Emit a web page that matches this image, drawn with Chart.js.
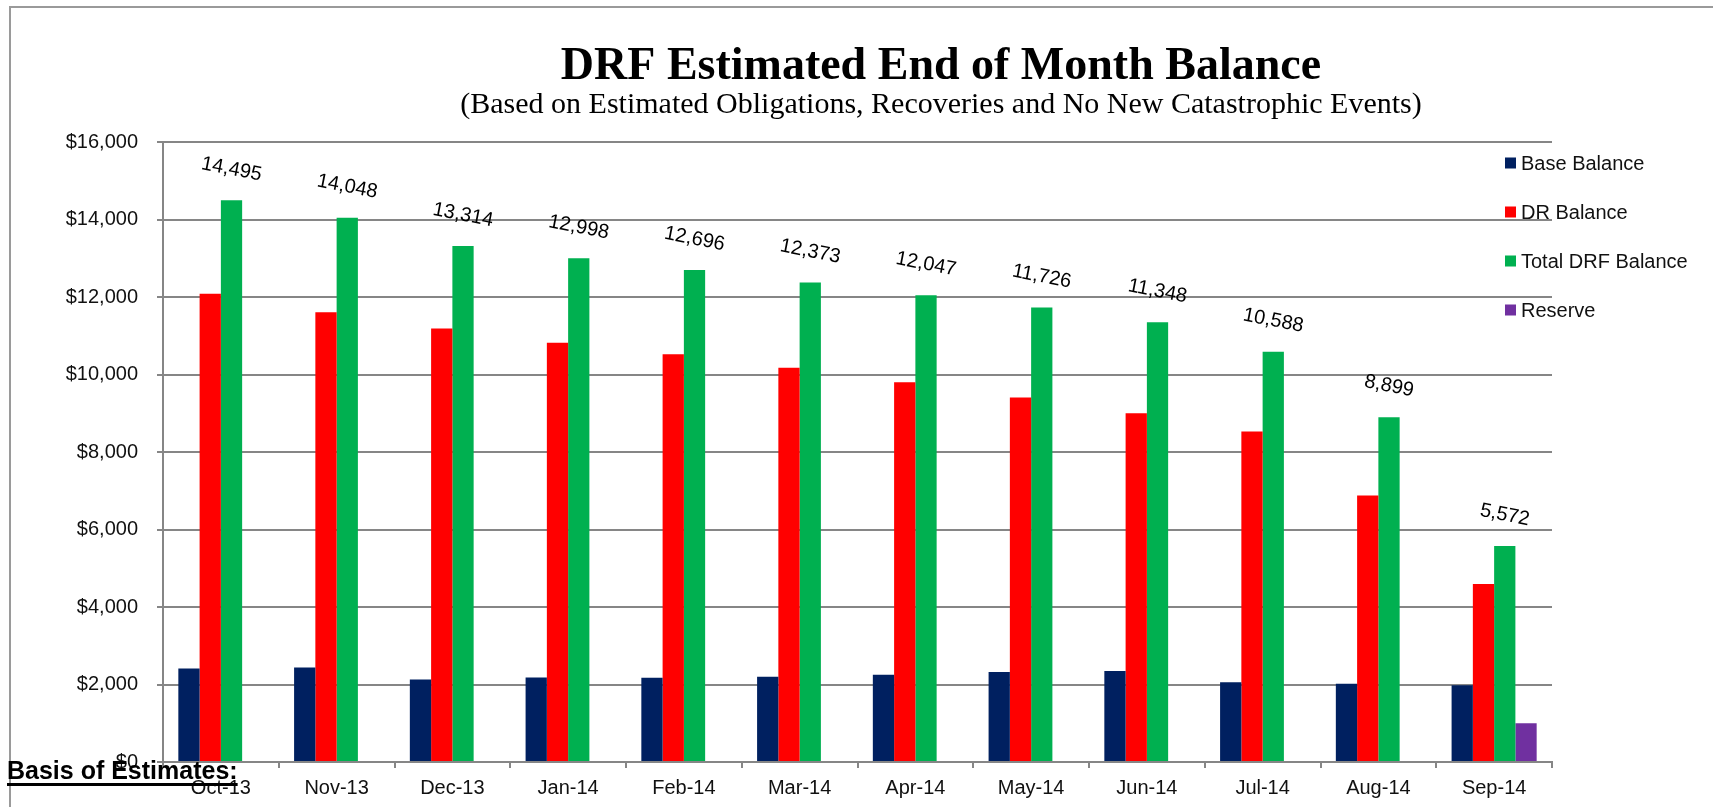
<!DOCTYPE html>
<html>
<head>
<meta charset="utf-8">
<script src="https://cdn.jsdelivr.net/npm/chart.js@4.4.1/dist/chart.umd.min.js"></script>
<style>
  body { margin: 0; background: #fff; }
  #wrap { position: relative; width: 1713px; height: 807px; }
</style>
</head>
<body>
<div id="wrap"><canvas id="drfChart"></canvas></div>
<script>
const months = ['Oct-13', 'Nov-13', 'Dec-13', 'Jan-14', 'Feb-14', 'Mar-14', 'Apr-14', 'May-14', 'Jun-14', 'Jul-14', 'Aug-14', 'Sep-14'];
const baseBalance = [2410, 2440, 2130, 2180, 2175, 2200, 2250, 2320, 2350, 2060, 2020, 1980];
const drBalance = [12085, 11608, 11184, 10818, 10521, 10173, 9797, 9406, 8998, 8528, 6879, 4592];
const totalDrf = [14495, 14048, 13314, 12998, 12696, 12373, 12047, 11726, 11348, 10588, 8899, 5572];
const reserve = [null, null, null, null, null, null, null, null, null, null, null, 1000];
const yTicks = [0, 2000, 4000, 6000, 8000, 10000, 12000, 14000, 16000];

const titleText = 'DRF Estimated End of Month Balance';
const subtitleText = '(Based on Estimated Obligations, Recoveries and No New Catastrophic Events)';
const footText = 'Basis of Estimates:';

const sans = "'Liberation Sans', Arial, sans-serif";
const serif = "'Liberation Serif', 'Times New Roman', serif";
const gridGray = '#868686';

// titles, frame, legend, value labels - drawn by hand since they overlap the plot like the original
const extrasPlugin = {
    id: 'extras',
    beforeDraw(chart) {
        const ctx = chart.ctx;
        ctx.save();
        ctx.strokeStyle = '#9a9a9a';
        ctx.lineWidth = 2;
        ctx.beginPath();
        ctx.moveTo(10, 807); ctx.lineTo(10, 7); ctx.lineTo(1713, 7);
        ctx.stroke();
        ctx.restore();
    },
    afterDatasetsDraw(chart) {
        const ctx = chart.ctx;
        const meta = chart.getDatasetMeta(2);
        ctx.save();
        ctx.font = '20px ' + sans;
        ctx.fillStyle = '#000';
        ctx.textAlign = 'center';
        ctx.textBaseline = 'middle';
        meta.data.forEach((bar, i) => {
            ctx.save();
            ctx.translate(bar.x, bar.y - 31);
            ctx.rotate(11 * Math.PI / 180);
            ctx.fillText(totalDrf[i].toLocaleString('en-US'), 0, 0);
            ctx.restore();
        });
        ctx.restore();
    },
    afterDraw(chart) {
        const ctx = chart.ctx;
        ctx.save();
        ctx.fillStyle = '#000';
        ctx.textAlign = 'center';
        ctx.textBaseline = 'alphabetic';
        ctx.font = 'bold 46px ' + serif;
        ctx.fillText(titleText, 941, 79);
        ctx.font = '30px ' + serif;
        ctx.fillText(subtitleText, 941, 113);

        // legend
        ctx.textAlign = 'left';
        ctx.textBaseline = 'middle';
        ctx.font = '20px ' + sans;
        chart.data.datasets.forEach((ds, i) => {
            const cy = 163 + i * 49;
            ctx.fillStyle = ds.backgroundColor;
            ctx.fillRect(1505, cy - 5.5, 11, 11);
            ctx.fillStyle = '#111';
            ctx.fillText(ds.label, 1521, cy + 1);
        });

        // footer note
        ctx.font = 'bold 25px ' + sans;
        ctx.textBaseline = 'alphabetic';
        ctx.fillStyle = '#000';
        ctx.fillText(footText, 7, 779);
        const w = ctx.measureText(footText).width;
        ctx.fillRect(7, 783, w, 3);
        ctx.restore();
    }
};

new Chart(document.getElementById('drfChart'), {
    type: 'bar',
    data: {
        labels: months,
        datasets: [
            { label: 'Base Balance', data: baseBalance, backgroundColor: '#002060' },
            { label: 'DR Balance', data: drBalance, backgroundColor: '#FF0000' },
            { label: 'Total DRF Balance', data: totalDrf, backgroundColor: '#00B050' },
            { label: 'Reserve', data: reserve, backgroundColor: '#7030A0' }
        ]
    },
    options: {
        responsive: true,
        maintainAspectRatio: false,
        animation: false,
        categoryPercentage: 0.735,
        barPercentage: 1.0,
        layout: { padding: { top: 142, right: 161, left: 0, bottom: 0 } },
        plugins: {
            legend: { display: false },
            title: { display: false },
            tooltip: { enabled: false }
        },
        scales: {
            x: {
                offset: true,
                grid: { display: true, offset: true, drawOnChartArea: false, color: gridGray, lineWidth: 2, tickLength: 6 },
                border: { display: true, color: gridGray, width: 2 },
                ticks: { color: '#111', font: { family: sans, size: 20 }, padding: 8, maxRotation: 0 },
                afterFit(scale) { scale.height = 45; }
            },
            y: {
                min: 0,
                max: 16000,
                afterBuildTicks(scale) { scale.ticks = yTicks.map(v => ({ value: v })); },
                grid: { color: gridGray, lineWidth: 2, tickLength: 6 },
                border: { display: true, color: gridGray, width: 2 },
                ticks: {
                    color: '#111',
                    font: { family: sans, size: 20 },
                    padding: 19,
                    callback: v => '$' + v.toLocaleString('en-US')
                },
                afterFit(scale) { scale.width = 163; }
            }
        }
    },
    plugins: [extrasPlugin]
});
</script>
</body>
</html>
